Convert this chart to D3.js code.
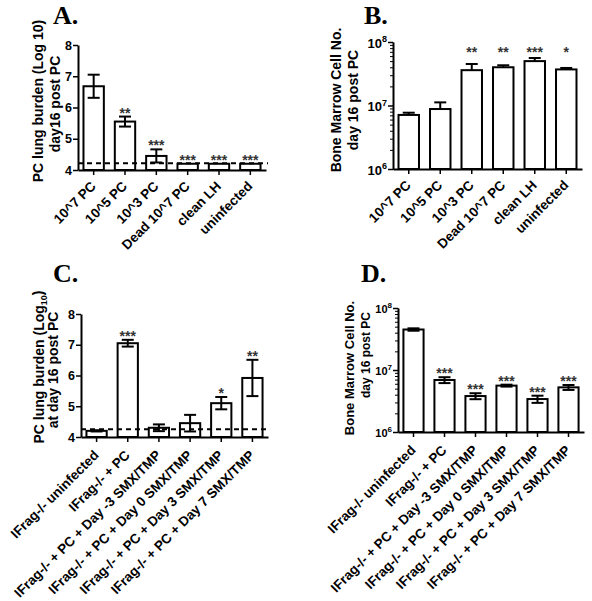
<!DOCTYPE html>
<html><head><meta charset="utf-8">
<script src="https://cdn.jsdelivr.net/npm/d3@7"></script>
<style>body{margin:0;background:#fff}svg{display:block}</style>
</head><body>
<svg id="c" width="592" height="601"></svg>
<script>
// ---------- data ----------
const catsAB = ["10^7 PC", "10^5 PC", "10^3 PC", "Dead 10^7 PC", "clean LH", "uninfected"];
const catsCD = ["IFrag-/- uninfected", "IFrag-/- + PC", "IFrag-/- + PC + Day -3 SMX/TMP",
  "IFrag-/- + PC + Day 0 SMX/TMP", "IFrag-/- + PC + Day 3 SMX/TMP", "IFrag-/- + PC + Day 7 SMX/TMP"];

const valsA = [6.68, 5.55, 4.45, 4.2, 4.2, 4.2];
const errA = [0.37, 0.16, 0.21, 0, 0, 0];
const starsA = ["", "**", "***", "***", "***", "***"];

const valsB = [7.1e6, 8.8e6, 3.6e7, 4.0e7, 5.0e7, 3.7e7];
const errB = [0.6e6, 2.4e6, 0.9e7, 0.3e7, 0.6e7, 0.2e7];
const starsB = ["", "", "**", "**", "***", "*"];

const valsC = [4.2, 7.05, 4.3, 4.45, 5.1, 5.92];
const errC = [0.02, 0.11, 0.11, 0.27, 0.2, 0.59];
const starsC = ["", "***", "", "", "*", "**"];

const valsD = [4.5e7, 6.9e6, 3.8e6, 5.6e6, 3.4e6, 5.25e6];
const errD = [2.0e6, 0.75e6, 0.42e6, 0.2e6, 0.45e6, 0.48e6];
const starsD = ["", "***", "***", "***", "***", "***"];

const linTicks = [4, 5, 6, 7, 8];
const logTicks = [1e6, 1e7, 1e8];
const limitA = 4.22;
const limitC = 4.25;

// ---------- drawing ----------
const svg = d3.select("#c");
const SANS = "'Liberation Sans', Arial, sans-serif";
const SERIF = "'Liberation Serif', 'Times New Roman', serif";

function panel(cfg) {
  const g = svg.append("g");
  const x = d3.scaleBand().domain(cfg.cats).range([cfg.x0, cfg.x1])
    .paddingInner(0.35).paddingOuter(0.175);
  let y, minorTicks = [];
  if (cfg.log) {
    y = d3.scaleLog().domain([1e6, 1e8]).range([cfg.yBot, cfg.yTop]);
    for (let d = 1e6; d < 1e8; d *= 10) for (let k = 2; k <= 9; k++) minorTicks.push(d * k);
  } else {
    y = d3.scaleLinear().domain([4, 8]).range([cfg.yBot, cfg.yTop]);
  }
  const base = cfg.log ? 1e6 : 4;

  // bars
  g.selectAll("rect.bar").data(cfg.vals).join("rect")
    .attr("x", (d, i) => x(cfg.cats[i]))
    .attr("y", d => y(d))
    .attr("width", x.bandwidth())
    .attr("height", d => y(base) - y(d))
    .attr("fill", "#fff").attr("stroke", "#000").attr("stroke-width", 2);

  // error bars
  const cap = 6;
  cfg.vals.forEach((v, i) => {
    const e = cfg.errs[i];
    if (!e) return;
    const cx = x(cfg.cats[i]) + x.bandwidth() / 2;
    const top = y(v + e);
    const bot = cfg.upOnly ? y(v) : y(v - e);
    g.append("line").attr("x1", cx).attr("x2", cx).attr("y1", top).attr("y2", bot)
      .attr("stroke", "#000").attr("stroke-width", 2);
    g.append("line").attr("x1", cx - cap).attr("x2", cx + cap).attr("y1", top).attr("y2", top)
      .attr("stroke", "#000").attr("stroke-width", 2);
    if (!cfg.upOnly)
      g.append("line").attr("x1", cx - cap).attr("x2", cx + cap).attr("y1", bot).attr("y2", bot)
        .attr("stroke", "#000").attr("stroke-width", 2);
  });

  // stars
  cfg.vals.forEach((v, i) => {
    if (!cfg.stars[i]) return;
    const cx = x(cfg.cats[i]) + x.bandwidth() / 2;
    const yy = cfg.starLevel ? y(cfg.starLevel) : y(v + cfg.errs[i]) + 1;
    g.append("text").attr("x", cx).attr("y", yy).attr("text-anchor", "middle")
      .attr("font-family", SANS).attr("font-weight", "bold").attr("font-size", 14)
      .attr("fill", "#333").text(cfg.stars[i]);
  });

  // detection limit
  if (cfg.limit) {
    g.append("line").attr("x1", cfg.x0).attr("x2", cfg.x1 + 2)
      .attr("y1", y(cfg.limit)).attr("y2", y(cfg.limit))
      .attr("stroke", "#000").attr("stroke-width", 2).attr("stroke-dasharray", "5,4");
  }

  // x axis
  const xa = g.append("g").attr("transform", `translate(0,${cfg.yBot})`)
    .call(d3.axisBottom(x).tickSize(5).tickSizeOuter(0).tickFormat(""));
  xa.select(".domain").attr("stroke-width", 2);
  xa.selectAll(".tick line").attr("stroke-width", 1.5);
  g.selectAll("text.xl").data(cfg.cats).join("text")
    .attr("transform", d => `translate(${x(d) + x.bandwidth() / 2 + 3},${cfg.yBot + cfg.xlOff}) rotate(-45)`)
    .attr("text-anchor", "end")
    .attr("font-family", SANS).attr("font-weight", "bold").attr("font-size", 13.5)
    .text(d => d);

  // y axis
  const ya = g.append("g").attr("transform", `translate(${cfg.x0},0)`);
  if (cfg.log) {
    ya.call(d3.axisLeft(y).tickValues(minorTicks).tickSize(3).tickSizeOuter(0).tickFormat(""));
    ya.selectAll(".tick line").attr("stroke-width", 1);
    const ym = g.append("g").attr("transform", `translate(${cfg.x0},0)`)
      .call(d3.axisLeft(y).tickValues(logTicks).tickSize(5).tickSizeOuter(0).tickFormat(""));
    ym.select(".domain").attr("stroke-width", 2);
    ym.selectAll(".tick line").attr("stroke-width", 1.5);
    ym.selectAll(".tick").append("text")
      .attr("x", -6).attr("dy", "0.4em").attr("text-anchor", "end")
      .attr("font-family", SANS).attr("font-weight", "bold").attr("font-size", cfg.tickFont)
      .attr("fill", "#000")
      .each(function (d) {
        const t = d3.select(this);
        t.append("tspan").text("10");
        t.append("tspan").attr("font-size", cfg.supFont).attr("dy", "-0.6em")
          .text(Math.round(Math.log10(d)));
      });
  } else {
    ya.call(d3.axisLeft(y).tickValues(linTicks).tickSize(5).tickSizeOuter(0)
      .tickFormat(d3.format("d")));
    ya.select(".domain").attr("stroke-width", 2);
    ya.selectAll(".tick line").attr("stroke-width", 1.5);
    ya.selectAll(".tick text").attr("x", -6)
      .attr("font-family", SANS).attr("font-weight", "bold").attr("font-size", 12.5)
      .attr("fill", "#000");
  }

  // y labels
  cfg.ylab.forEach(l => {
    const t = g.append("text")
      .attr("transform", `translate(${l.x},${l.y}) rotate(-90)`)
      .attr("text-anchor", "middle")
      .attr("font-family", SANS).attr("font-weight", "bold").attr("font-size", l.size || 14);
    if (l.sub) {
      t.append("tspan").text(l.text);
      t.append("tspan").attr("font-size", 9).attr("dy", "0.3em").text(l.sub);
      t.append("tspan").attr("dy", "-0.3em").text(l.after);
    } else t.text(l.text);
  });

  // title
  g.append("text").attr("x", cfg.tx).attr("y", cfg.ty)
    .attr("font-family", SERIF).attr("font-weight", "bold").attr("font-size", 26)
    .text(cfg.title);
}

panel({title: "A.", tx: 53, ty: 24, cats: catsAB, vals: valsA, errs: errA, stars: starsA,
  x0: 78, x1: 266, yTop: 45, yBot: 170, log: false, limit: limitA, xlOff: 17,
  ylab: [{x: 43, y: 101, text: "PC lung burden (Log 10)"}, {x: 60, y: 104, text: "day16 post PC"}]});

panel({title: "B.", tx: 364, ty: 24, cats: catsAB, vals: valsB, errs: errB, stars: starsB,
  x0: 393, x1: 582, yTop: 42, yBot: 169, log: true, upOnly: true, starLevel: 5.75e7, xlOff: 17,
  tickFont: 13, supFont: 9,
  ylab: [{x: 341, y: 100, text: "Bone Marrow Cell No."}, {x: 358, y: 100, text: "day 16 post PC"}]});

panel({title: "C.", tx: 53, ty: 282, cats: catsCD, vals: valsC, errs: errC, stars: starsC,
  x0: 81, x1: 268, yTop: 314, yBot: 437, log: false, limit: limitC, xlOff: 19,
  ylab: [{x: 44, y: 367, text: "PC lung burden (Log", sub: "10", after: ")"},
         {x: 58, y: 370, text: "at day 16 post PC"}]});

panel({title: "D.", tx: 361, ty: 282, cats: catsCD, vals: valsD, errs: errD, stars: starsD,
  x0: 398, x1: 584, yTop: 308, yBot: 432, log: true, xlOff: 19,
  tickFont: 11, supFont: 8,
  ylab: [{x: 354, y: 368, text: "Bone Marrow Cell No.", size: 13},
         {x: 370, y: 355, text: "day 16 post PC", size: 12}]});
</script>
</body></html>
